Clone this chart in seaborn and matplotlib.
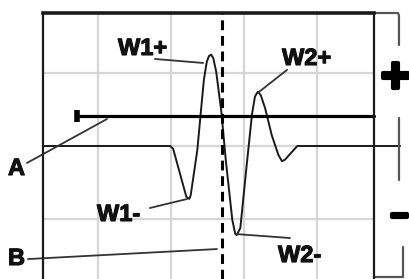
import matplotlib
matplotlib.use("Agg")
import matplotlib.pyplot as plt
import matplotlib.patheffects as pe
import seaborn as sns
import pandas as pd

sns.set_theme(style="white")
plt.rcParams['font.family'] = ['Liberation Sans', 'DejaVu Sans']

# --- data (time in grid divisions, amplitude in grid divisions) ---
wave_t = [0.25, 1.99, 2.03, 2.21, 2.25, 2.27, 2.36, 2.45, 2.49, 2.52, 2.55, 2.58,
          2.62, 2.69, 2.75, 2.84, 2.88, 2.90, 2.95, 3.03, 3.11, 3.15, 3.19, 3.23,
          3.29, 3.38, 3.47, 3.52, 3.56, 3.73, 5.14]
wave_a = [0.0, 0.0, -0.04, -0.70, -0.73, -0.68, -0.06, 0.91, 1.16, 1.24, 1.26, 1.21,
          1.02, 0.47, -0.19, -1.02, -1.21, -1.23, -1.13, -0.33, 0.44, 0.68, 0.75, 0.70,
          0.52, 0.15, -0.12, -0.21, -0.19, 0.0, 0.0]
level_a = 0.414          # horizontal reference line A
level_t = [0.712, 4.781]
marker_b = 2.70          # vertical dashed line B
grid_t = [1, 2, 3, 4]
grid_a = [-1, 0, 1]
labels = ["W1+", "W2+", "W1-", "W2-", "A", "B"]
label_t = [1.274, 3.521, 0.986, 3.466, -0.233, -0.233]
label_a = [1.255, 1.117, -1.034, -1.60, -0.40, -1.641]
leader_from = [(1.78, 1.20), (3.59, 1.05), (1.71, -0.855), (3.63, -1.269), (0.027, -0.234), (0.041, -1.559)]
leader_to = [(2.44, 1.145), (3.205, 0.745), (2.219, -0.731), (2.89, -1.214), (1.123, 0.372), (2.63, -1.421)]

df = pd.DataFrame({"t": wave_t, "a": wave_a})

fig = plt.figure(figsize=(4.09, 2.79), dpi=100)
ax = fig.add_axes([43 / 409, 0.0, (374 - 43) / 409, (279 - 13) / 279])
ax.set_xlim(0.2466, 4.781)
ax.set_ylim(-1.834, 1.834)

# grid
for g in grid_t:
    ax.axvline(g, color="#d6d6d6", lw=1.6, zorder=0)
for g in grid_a:
    ax.axhline(g, color="#d6d6d6", lw=1.6, zorder=0)

# waveform
sns.lineplot(data=df, x="t", y="a", ax=ax, color="#1a1a1a", lw=1.4, sort=False,
             estimator=None, clip_on=False, zorder=3)

# reference line A with cap
ax.plot(level_t, [level_a, level_a], color="black", lw=2.3, zorder=4, clip_on=False)
ax.plot([level_t[0]], [level_a], marker="|", markersize=8, markeredgewidth=4,
        color="black", zorder=4)

# dashed line B
ax.axvline(marker_b, color="black", lw=2.2, linestyle=(0, (3.2, 1.9)), zorder=5)

# leader lines and labels
for (x0, y0), (x1, y1) in zip(leader_from, leader_to):
    ax.plot([x0, x1], [y0, y1], color="#333333", lw=1.3, clip_on=False, zorder=4)
for s, x, y in zip(labels, label_t, label_a):
    ax.text(x, y, s, fontsize=17, fontweight="bold", ha="left", va="baseline",
            color="#111111", clip_on=False, zorder=6,
            path_effects=[pe.withStroke(linewidth=0.8, foreground="#111111")])

# right-side bracket with + and -
bk = dict(color="#555555", lw=1.6, clip_on=False, zorder=4)
ax.plot([4.781, 5.11, 5.123, 5.123], [1.834, 1.834, 1.80, 1.393], **bk)
ax.plot([5.123, 5.123], [0.386, -0.469], **bk)
ax.plot([4.781, 5.178, 5.178], [-1.807, -1.807, -1.393], **bk)
ax.text(5.075, 0.924, "+", fontsize=35, fontweight="bold", ha="center", va="center",
        color="black", clip_on=False,
        path_effects=[pe.withStroke(linewidth=3, foreground="black")])
ax.text(5.13, -0.979, "\u2212", fontsize=21, fontweight="bold", ha="center", va="center",
        color="black", clip_on=False,
        path_effects=[pe.withStroke(linewidth=3, foreground="black")])

# frame
ax.set_xticks([])
ax.set_yticks([])
ax.set_xlabel("")
ax.set_ylabel("")
ax.spines["bottom"].set_visible(False)
ax.spines["left"].set_linewidth(1.6)
ax.spines["right"].set_linewidth(1.6)
ax.spines["top"].set_linewidth(2.6)
for s in ["left", "right", "top"]:
    ax.spines[s].set_color("#1a1a1a")
    ax.spines[s].set_zorder(6)

fig.savefig("out.png", dpi=100)
